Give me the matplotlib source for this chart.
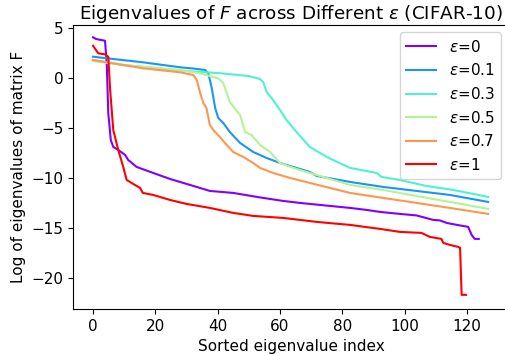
import numpy as np
import matplotlib
matplotlib.use('Agg')
import matplotlib.pyplot as plt

labels = ['0', '0.1', '0.3', '0.5', '0.7', '1']

# sorted eigenvalue index / log eigenvalue
x_e0 = [0, 1, 3.85, 4.4, 4.9, 5.7, 6.5, 8.1, 10.3, 11.3, 14, 19.3, 24.7, 32.2, 37.5, 45, 53.6,
        61, 66.4, 72.8, 82.5, 87.8, 92.1, 98.5, 103.8, 109.2, 111.3, 113.5, 115.1, 120.4, 121.5, 122.5, 123.8]
y_e0 = [4.07, 3.9, 3.73, 1.47, -3.5, -6.2, -6.9, -7.2, -7.7, -8.2, -8.9, -9.5, -10.1, -10.8, -11.3, -11.5, -11.95,
        -12.3, -12.5, -12.7, -13.0, -13.2, -13.4, -13.6, -13.75, -14.2, -14.25, -14.5, -14.6, -14.9, -15.7, -16.1, -16.1]

x_e01 = [0, 16.1, 28, 32.2, 36, 37, 38.1, 39.2, 40.2, 41.8, 43.9, 47.2, 51.4, 55.7, 60, 65.3, 69.6,
         71.8, 82.5, 93.1, 103.8, 114.5, 126.8]
y_e01 = [2.13, 1.57, 1.07, 0.95, 0.8, 0.47, -1.0, -3.0, -4.0, -4.5, -5.4, -6.5, -7.4, -8.0, -8.5, -9.0, -9.4,
         -9.8, -10.4, -10.9, -11.3, -11.7, -12.4]

x_e03 = [0, 10, 20, 30, 40, 50, 53.6, 54.6, 55.7, 57.3, 60, 62.1, 65.3, 69.6, 75, 82.5, 91, 92.6,
         98.5, 106.9, 115.6, 126.8]
y_e03 = [1.8, 1.3, 1.0, 0.7, 0.5, 0.2, -0.1, -0.4, -1.4, -2.0, -3.2, -4.2, -5.4, -6.9, -7.9, -9.0, -9.5, -9.9,
         -10.2, -10.8, -11.2, -11.9]

x_e05 = [0, 10, 20, 28, 34.3, 40.2, 41.8, 43.9, 47.2, 48.8, 50.9, 53.6, 56.8, 60, 64.3, 69.6,
         82.5, 93.1, 103.8, 114.5, 126.8]
y_e05 = [1.7, 1.3, 1.0, 0.8, 0.47, -0.03, -0.5, -2.4, -3.7, -5.4, -5.7, -6.7, -7.4, -8.5, -9.0, -9.5,
         -10.7, -11.2, -11.8, -12.4, -13.1]

x_e07 = [0, 16.1, 28, 32.2, 33.3, 34.3, 35.4, 36.4, 37.5, 38.6, 40.7, 42.9, 45, 48.2, 51.4, 53.6, 57.8,
         63.2, 69.6, 82.5, 93.1, 103.8, 114.5, 126.8]
y_e07 = [1.8, 0.97, 0.57, 0.3, -0.2, -1.4, -2.5, -3.0, -4.7, -5.2, -5.9, -6.7, -7.4, -7.9, -8.5, -9.0, -9.5,
         -10.0, -10.5, -11.5, -12.0, -12.5, -13.0, -13.6]

x_e1 = [0, 1.7, 3.85, 4.9, 5.5, 6.5, 8.1, 9.7, 10.8, 12.9, 15.1, 16, 19.3, 24.7, 30, 37.5, 45, 51.4,
        61, 71.8, 82.5, 92.1, 98.5, 105.4, 108.1, 111.8, 112.4, 114.5, 117.2, 117.8, 118.3, 119.7]
y_e1 = [3.23, 2.47, 2.37, 2.13, -1.2, -5.2, -7.2, -8.9, -10.2, -10.6, -11.0, -11.5, -11.7, -12.2, -12.6, -13.0, -13.5, -13.8,
        -14.0, -14.4, -14.7, -15.1, -15.4, -15.5, -15.9, -16.1, -16.5, -16.7, -16.9, -17.0, -21.7, -21.7]

xs = [x_e0, x_e01, x_e03, x_e05, x_e07, x_e1]
ys = [y_e0, y_e01, y_e03, y_e05, y_e07, y_e1]

colors = plt.cm.rainbow(np.linspace(0, 1, len(labels)))

fig = plt.figure(figsize=(5.05, 3.55), dpi=100)
ax = fig.add_axes([0.145, 0.13, 0.862, 0.80])
for x, y, lab, c in zip(xs, ys, labels, colors):
    ax.plot(x, y, color=c, linewidth=1.5, label=r'$\varepsilon$=' + lab)

ax.set_title(r'Eigenvalues of $F$ across Different $\varepsilon$ (CIFAR-10)', fontsize=13.2, pad=4)
ax.set_xlabel('Sorted eigenvalue index', fontsize=11)
ax.set_ylabel('Log of eigenvalues of matrix F', fontsize=11)
ax.set_xticks([0, 20, 40, 60, 80, 100, 120])
ax.set_yticks([5, 0, -5, -10, -15, -20])
ax.tick_params(labelsize=11)
ax.set_xlim(-6.35, 133.35)
ax.set_ylim(-23.1, 5.32)
ax.legend(loc='upper right', fontsize=11)

plt.savefig('out.png', dpi=100)
